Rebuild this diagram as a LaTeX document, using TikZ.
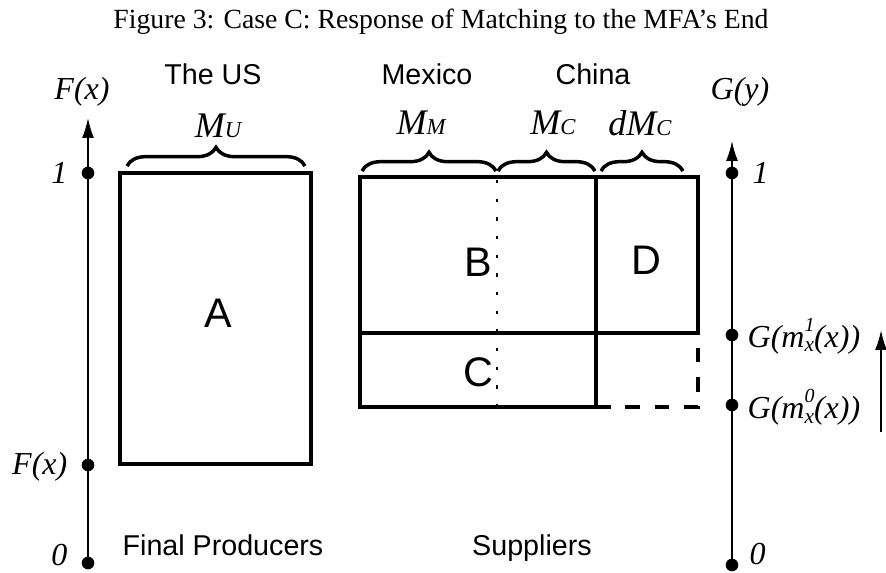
\documentclass[tikz,border=0pt]{standalone}
\usepackage{fontspec}
\setmainfont{Liberation Serif}
\setsansfont{Liberation Sans}
\usetikzlibrary{decorations.pathreplacing, arrows.meta}

% small letter set next to M, and the stacked index of m
\newcommand{\idx}[1]{{\fontsize{17}{17}\selectfont #1}}
\newcommand{\supsub}[2]{\rlap{\raisebox{0.5em}{\fontsize{15}{15}\selectfont #1}}\raisebox{-0.15em}{\fontsize{16}{16}\selectfont #2}}

\begin{document}
\begin{tikzpicture}[x = 0.75pt, y = -0.75pt, >={Latex[length = 15pt, width = 9pt]},
                        box/.style = {line width = 2.8pt},
                        axis/.style = {line width = 1.2pt},
                        dotnode/.style = {circle, fill = black, inner sep = 0pt, minimum size = 9.5pt},
                        curly/.style = {decorate, decoration = {brace, amplitude = 14pt}, line width = 2.6pt},
                        var/.style = {font = \fontsize{24}{28}\selectfont\itshape},
                        big/.style = {font = \fontsize{27}{32}\selectfont\itshape},
                        word/.style = {font = \fontsize{21.5}{26}\selectfont\sffamily, anchor = base},
                        area/.style = {font = \fontsize{31}{36}\selectfont\sffamily}]
    \useasboundingbox (0, 0) rectangle (886, 573);
    \node [font = \fontsize{20.8}{25}\selectfont] (title) at (441, 22) {Figure 3: Case C: Response of Matching to the MFA's End};

    % final producers' axis
    \coordinate (Ftop) at (88, 118);
    \coordinate (Fbot) at (88, 563);
    \draw [axis,->] (Fbot) -- (Ftop);
    \node [dotnode] (F1) at (88, 173) {};
    \node [dotnode] (Fx) at (88, 465) {};
    \node [dotnode] (F0) at (88, 563) {};
    \node [var] (Flab) at (82, 92) {F(x)};
    \node [var, anchor = east] at (72, 173) {1};
    \node [var, anchor = east] at (72, 467) {F(x)};
    \node [var, anchor = east] at (72, 555) {0};

    % suppliers' axis
    \coordinate (Gtop) at (732, 141);
    \coordinate (Gbot) at (732, 565);
    \draw [axis,->] (Gbot) -- (Gtop);
    \node [dotnode] (G1) at (732, 173) {};
    \node [dotnode] (Gm1) at (732, 335) {};
    \node [dotnode] (Gm0) at (732, 405) {};
    \node [dotnode] (G0) at (732, 565) {};
    \node [var] (Glab) at (740, 92) {G(y)};
    \node [var, anchor = west] at (748, 173) {1};
    \node [var, anchor = west] at (743, 336) {G(m\supsub{1}{x}(x))};
    \node [var, anchor = west] at (743, 407) {G(m\supsub{0}{x}(x))};
    \node [var, anchor = west] at (745, 554) {0};

    % shift of the cutoff
    \coordinate (up0) at (881, 432);
    \coordinate (up1) at (881, 330);
    \draw [line width = 1.6pt, ->] (up0) -- (up1);

    % the US
    \draw [box] (120, 173) rectangle (311, 464);
    \node [area] (A) at (218, 313) {A};
    \draw [curly] (127, 166) -- (305, 166);
    \node [big] (MU) at (218, 126) {M\idx{U}};
    \node [word] (US) at (213, 85) {The US};

    % Mexico and China
    \draw [box] (360, 177) rectangle (596, 333);
    \draw [box] (360, 333) rectangle (596, 407);
    \draw [box] (596, 177) rectangle (698, 333);
    \draw [box, dash pattern = on 11pt off 11pt] (596, 407) -- (698, 407) -- (698, 333);
    \draw [line width = 1.6pt, dash pattern = on 2.5pt off 11.5pt] (497, 180) -- (497, 407);
    \node [area] (B) at (478, 262) {B};
    \node [area] (C) at (478, 372) {C};
    \node [area] (D) at (646, 260) {D};
    \draw [curly] (362, 171) -- (496, 171);
    \draw [curly] (498, 171) -- (595, 171);
    \draw [curly] (601, 171) -- (683, 171);
    \node [big] (MM) at (421, 123) {M\idx{M}};
    \node [big] (MC) at (553, 123) {M\idx{C}};
    \node [big] (dMC) at (640, 123) {dM\idx{C}};
    \node [word] (mex) at (427, 85) {Mexico};
    \node [word] (chn) at (593, 85) {China};

    \node [word] (fin) at (223, 556) {Final Producers};
    \node [word] (sup) at (532, 556) {Suppliers};
  \end{tikzpicture}
\end{document}
